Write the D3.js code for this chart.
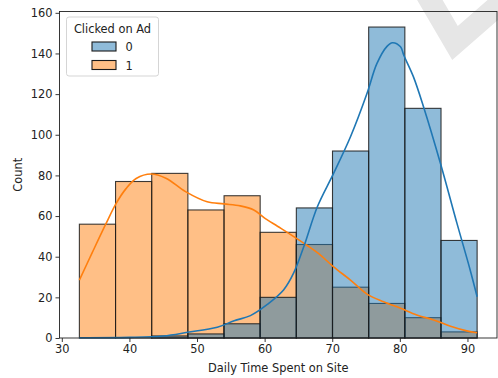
<!DOCTYPE html>
<html>
<head>
<meta charset="utf-8">
<script src="https://cdn.jsdelivr.net/npm/d3@7"></script>
<style>
  body { margin: 0; background: #fff; }
  text { font-family: "DejaVu Sans", sans-serif; fill: #222; }
</style>
</head>
<body>
<div id="chart"></div>
<script>
// histogram of Daily Time Spent on Site, split by "Clicked on Ad"
var binEdges = [32.60, 37.95, 43.30, 48.65, 54.00, 59.34, 64.69, 70.04, 75.39, 80.74, 86.09, 91.43];
var counts1 = [56, 77, 81, 63, 70, 52, 46, 25, 17, 10, 3];   // clicked = 1
var counts0 = [0, 0, 1, 2, 7, 20, 64, 92, 153, 113, 48];     // clicked = 0

// kde curves (scaled to counts)
var kde1X = [32.6, 34.5, 36.5, 38.0, 39.5, 41.0, 43.2, 45.4, 48.3, 51.5, 54.0, 56.4, 58.4, 60.0, 61.9, 63.8, 66.3, 68.0, 70.2, 72.7, 75.2, 77.6, 80.1, 82.5, 85.0, 87.5, 89.9, 91.43];
var kde1Y = [28.5, 42, 56, 66, 73.5, 78.5, 80.7, 78.6, 72, 67, 66, 65, 63, 59, 55, 51, 45.5, 41.5, 35, 28.5, 21.5, 17.8, 14.6, 11.3, 8.9, 5.8, 3.5, 2.6];
var kde0X = [32.6, 40.0, 45.0, 48.6, 53.0, 55.5, 57.9, 60.4, 62.8, 64.3, 65.8, 67.8, 70.2, 72.7, 75.15, 76.6, 78.1, 78.9, 80.1, 80.6, 82.0, 83.5, 86.0, 88.45, 90.4, 91.43];
var kde0Y = [0.1, 0.3, 1, 2.8, 5.3, 8.5, 11, 16.5, 23.6, 32, 45, 64.6, 81, 99, 120.4, 135, 143.5, 145.3, 143.3, 139, 128.6, 113.8, 86, 56.4, 33.5, 20.3];

var xTicks = [30, 40, 50, 60, 70, 80, 90];
var yTicks = [0, 20, 40, 60, 80, 100, 120, 140, 160];
var legendLabels = ["0", "1"];

var W = 498, H = 378;
var mLeft = 59.5, mRight = 497, mTop = 11.5, mBottom = 338;
var blue = "#1f77b4", orange = "#ff7f0e";

var svg = d3.select("#chart").append("svg")
    .attr("width", W).attr("height", H);

// faint watermark in the corner
svg.append("polyline")
    .attr("points", "424,-10 455,43 502,2")
    .attr("fill", "none")
    .attr("stroke", "#e6e6e6")
    .attr("stroke-width", 22)
    .attr("stroke-linejoin", "miter");

var x = d3.scaleLinear().domain([29.66, 94.37]).range([mLeft, mRight]);
var y = d3.scaleLinear().domain([0, 160.65]).range([mBottom, mTop]);

function bars(counts, color) {
    svg.append("g").selectAll("rect")
        .data(counts)
        .enter().append("rect")
            .attr("x", function(d, i) { return x(binEdges[i]); })
            .attr("width", function(d, i) { return x(binEdges[i + 1]) - x(binEdges[i]); })
            .attr("y", function(d) { return y(d); })
            .attr("height", function(d) { return y(0) - y(d); })
            .attr("fill", color)
            .attr("fill-opacity", 0.5)
            .attr("stroke", "#1a1a1a")
            .attr("stroke-opacity", 0.85)
            .attr("stroke-width", 1.1);
}
bars(counts1, orange);
bars(counts0, blue);

var line = d3.line()
    .curve(d3.curveCatmullRom)
    .x(function(d) { return x(d[0]); })
    .y(function(d) { return y(d[1]); });

svg.append("path")
    .datum(d3.zip(kde1X, kde1Y))
    .attr("fill", "none").attr("stroke", orange).attr("stroke-width", 1.6)
    .attr("d", line);
svg.append("path")
    .datum(d3.zip(kde0X, kde0Y))
    .attr("fill", "none").attr("stroke", blue).attr("stroke-width", 1.6)
    .attr("d", line);

// axes
var xAxis = svg.append("g")
    .attr("transform", "translate(0," + mBottom + ")")
    .call(d3.axisBottom(x).tickValues(xTicks).tickSize(4).tickPadding(3).tickFormat(d3.format("d")));
var yAxis = svg.append("g")
    .attr("transform", "translate(" + mLeft + ",0)")
    .call(d3.axisLeft(y).tickValues(yTicks).tickSize(4).tickPadding(3).tickFormat(d3.format("d")));
[xAxis, yAxis].forEach(function(a) {
    a.select(".domain").remove();
    a.selectAll("line").attr("stroke", "#222").attr("stroke-width", 0.9);
    a.selectAll("text").style("font-size", "11.4px").attr("fill", "#222");
});

// frame
svg.append("rect")
    .attr("x", mLeft).attr("y", mTop)
    .attr("width", mRight - mLeft).attr("height", mBottom - mTop)
    .attr("fill", "none").attr("stroke", "#222").attr("stroke-width", 0.9);

svg.append("text")
    .attr("x", (mLeft + mRight) / 2).attr("y", 372)
    .attr("text-anchor", "middle").style("font-size", "11.4px")
    .text("Daily Time Spent on Site");
svg.append("text")
    .attr("transform", "translate(21.5," + (mTop + mBottom) / 2 + ") rotate(-90)")
    .attr("text-anchor", "middle").style("font-size", "11.4px")
    .text("Count");

// legend
var lg = svg.append("g");
lg.append("rect")
    .attr("x", 66.5).attr("y", 17).attr("width", 92).attr("height", 59)
    .attr("rx", 2.5)
    .attr("fill", "#fff").attr("fill-opacity", 0.8)
    .attr("stroke", "#d0d0d0").attr("stroke-width", 0.9);
lg.append("text")
    .attr("x", 112.5).attr("y", 32.5)
    .attr("text-anchor", "middle").style("font-size", "11.4px")
    .text("Clicked on Ad");
lg.selectAll(".item")
    .data(legendLabels)
    .enter().append("g")
        .attr("transform", function(d, i) { return "translate(0," + (i * 18.5) + ")"; })
        .each(function(d, i) {
            var g = d3.select(this);
            g.append("rect")
                .attr("x", 92).attr("y", 42).attr("width", 24).attr("height", 9)
                .attr("fill", i === 0 ? blue : orange).attr("fill-opacity", 0.5)
                .attr("stroke", "#1a1a1a").attr("stroke-width", 1.1);
            g.append("text")
                .attr("x", 125.5).attr("y", 51)
                .style("font-size", "11.4px")
                .text(d);
        });
</script>
</body>
</html>
